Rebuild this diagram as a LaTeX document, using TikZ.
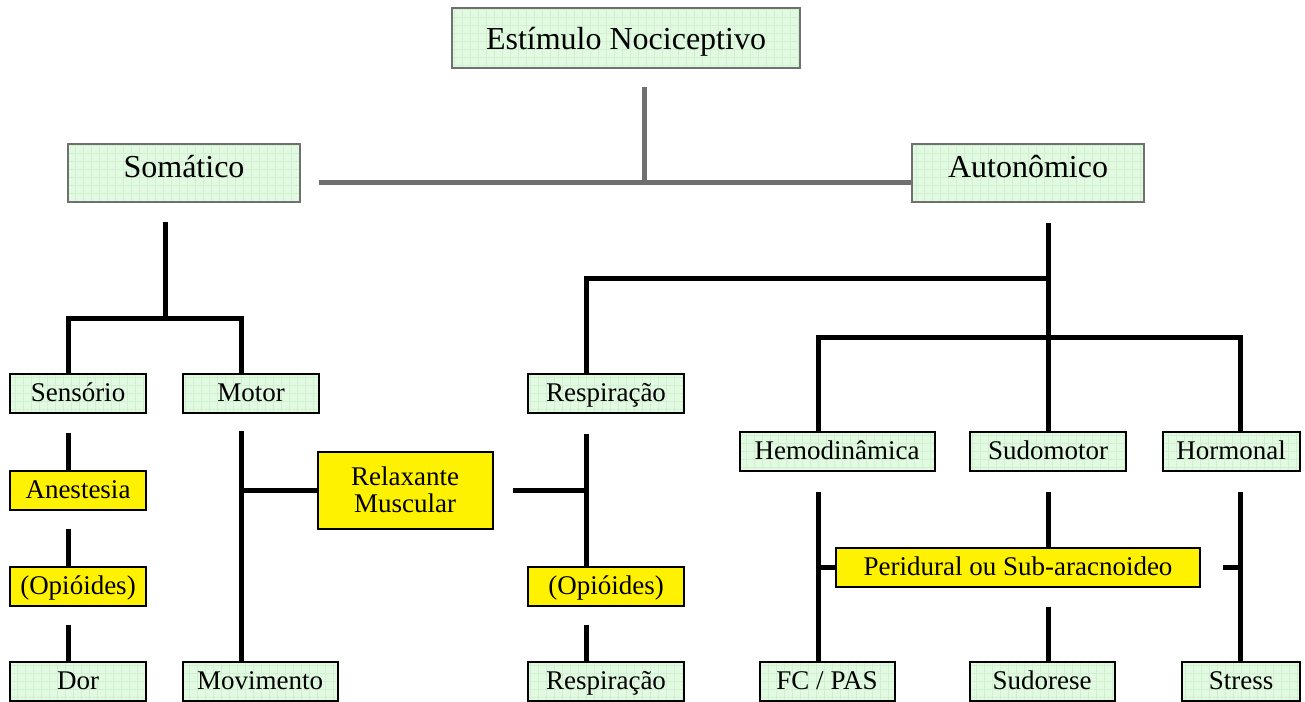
\documentclass[tikz,border=0pt]{standalone}
\usepackage{fontspec}
\setmainfont{Liberation Serif}
\usetikzlibrary{calc,positioning}

\definecolor{menta}{RGB}{226,250,226}
\definecolor{gradeverde}{RGB}{208,240,208}
\definecolor{cinza}{RGB}{112,112,112}

\tikzset{
  grade/.style={path picture={\draw[gradeverde,line width=0.4pt,step=8pt]
      (path picture bounding box.south west) grid (path picture bounding box.north east);}},
  topo/.style={draw=cinza,line width=2.6pt,fill=menta,grade,inner sep=0pt,
      text height=19pt,text depth=11pt,
      minimum width=232pt,minimum height=58pt,font=\fontsize{32}{36}\selectfont},
  folha/.style={draw=black,line width=2pt,fill=menta,grade,inner sep=0pt,
      text height=20pt,text depth=3pt,
      minimum height=39pt,font=\fontsize{27}{30}\selectfont},
  droga/.style={draw=black,line width=2pt,fill=yellow,inner sep=0pt,
      minimum height=39pt,font=\fontsize{27}{30}\selectfont},
  link/.style={draw=black,line width=5pt},
  glink/.style={draw=cinza,line width=5pt}
}

\begin{document}
\begin{tikzpicture}[x=1pt,y=-1pt]
\useasboundingbox (0,0) rectangle (1305,701);

% nivel superior
\node [topo,minimum width=348pt,minimum height=60pt,text height=26pt,text depth=3pt] (estim) at (626,38) {Estímulo Nociceptivo};
\node [topo] (som) at (184,173) {Somático};
\node [topo] (aut) at (1028,173) {Autonômico};

% caixas verdes
\def\folhas{sens/78/393/136/{Sensório},motor/251/393/136/{Motor},dor/78/681/136/{Dor},movim/260/681/155/{Movimento},resp/606/393/156/{Respiração},respb/606/681/156/{Respiração},hemo/837/451/195/{Hemodinâmica},sudo/1048/451/156/{Sudomotor},horm/1231/451/137/{Hormonal},fc/827/681/135/{FC / PAS},sudor/1042/681/145/{Sudorese},stress/1241/681/118/{Stress}}
\foreach \n/\x/\y/\w/\t in \folhas
  \node [folha,minimum width=\w pt] (\n) at (\x,\y) {\t};

% caixas amarelas
\def\drogas{anest/78/490/136/{Anestesia},opia/78/586/136/{(Opióides)},opib/606/586/156/{(Opióides)},peri/1018/567/364/{Peridural ou Sub-aracnoideo}}
\foreach \n/\x/\y/\w/\t in \drogas
  \node [droga,minimum width=\w pt,text height=20pt,text depth=4pt] (\n) at (\x,\y) {\t};
\node [droga,minimum width=175pt,minimum height=77pt,align=center] (relax) at (405,490) {Relaxante\\[-3pt]Muscular};

% juncoes
\coordinate (jT) at (644,182);
\coordinate (jS) at (165,318);
\coordinate (jSl) at (68,318);
\coordinate (jSr) at (241,318);
\coordinate (jA) at (1048,278);
\coordinate (jR) at (586,278);
\coordinate (jH) at (818,337);
\coordinate (jHo) at (1240,337);

% cinza
\draw [glink] ([yshift=-18pt]estim.south -| jT) -- (jT);
\draw [glink] ([xshift=18pt]som.east |- jT) -- (aut.west |- jT);

% somatico
\draw [link] ([yshift=-19pt]som.south -| jS) -- (jS);
\draw [link] (sens.north -| jSl) -- (jSl) -- (jSr) -- (motor.north -| jSr);
\draw [link] ([yshift=-19pt]sens.south -| jSl) -- (anest.north -| jSl);
\draw [link] ([yshift=-18pt]anest.south -| jSl) -- (opia.north -| jSl);
\draw [link] ([yshift=-18pt]opia.south -| jSl) -- (dor.north -| jSl);
\draw [link] ([yshift=-17pt]motor.south -| jSr) -- (movim.north -| jSr);
\draw [link] (relax.west) -- (relax.west -| jSr);
\draw [link] ([xshift=19pt]relax.east) -- (relax.east -| jR);

% autonomico
\draw [link] ([yshift=-20pt]aut.south -| jA) -- (sudo.north -| jA);
\draw [link] (jA) -- (jR) -- (resp.north -| jR);
\draw [link] (hemo.north -| jH) -- (jH) -- (jHo) -- (horm.north -| jHo);
\draw [link] ([yshift=-20pt]resp.south -| jR) -- (opib.north -| jR);
\draw [link] ([yshift=-18pt]opib.south -| jR) -- (respb.north -| jR);
\draw [link] ([yshift=-20pt]hemo.south -| jH) -- (fc.north -| jH);
\draw [link] (peri.west) -- (peri.west -| jH);
\draw [link] ([yshift=-20pt]sudo.south -| jA) -- (peri.north -| jA);
\draw [link] ([yshift=-19pt]peri.south -| jA) -- (sudor.north -| jA);
\draw [link] ([yshift=-20pt]horm.south -| jHo) -- (stress.north -| jHo);
\draw [link] ([xshift=22pt]peri.east) -- (peri.east -| jHo);
\end{tikzpicture}
\end{document}
